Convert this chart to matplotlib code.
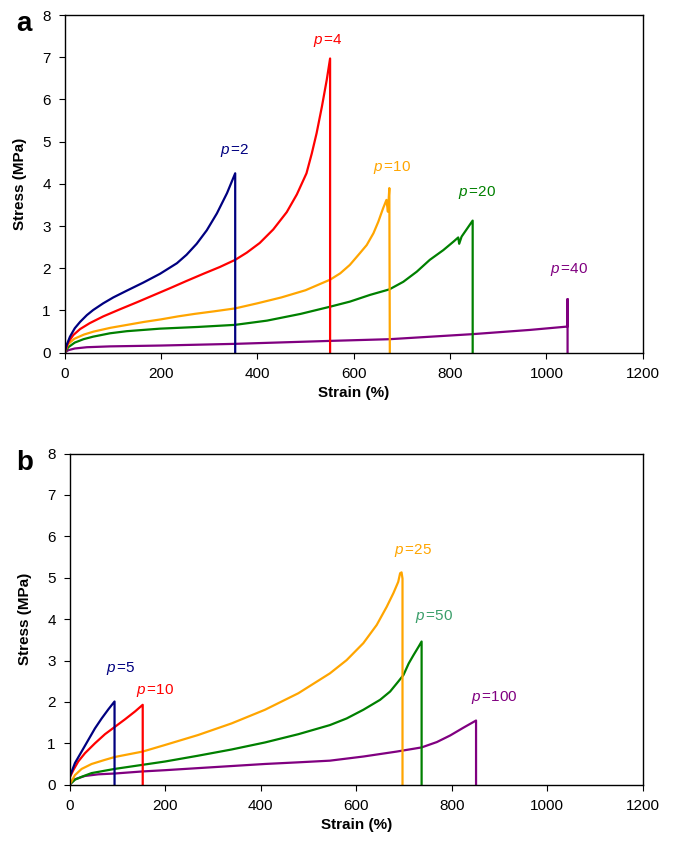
import numpy as np
import matplotlib.pyplot as plt

plt.rcParams['font.family'] = ['Liberation Sans', 'DejaVu Sans']
plt.rcParams['mathtext.fontset'] = 'custom'
plt.rcParams['mathtext.it'] = 'Liberation Sans:italic'
plt.rcParams['mathtext.rm'] = 'Liberation Sans'

# ---- panel a: stress-strain curves (strain %, stress MPa) ----
a_p2_x = [0, 4, 11, 21, 32, 46, 59, 80, 101, 129, 163, 198, 233, 253, 274, 295, 316, 337, 354, 354]
a_p2_y = [0, 0.18, 0.38, 0.58, 0.73, 0.89, 1.01, 1.17, 1.31, 1.47, 1.66, 1.87, 2.12, 2.32, 2.58, 2.9, 3.3, 3.78, 4.25, 0]

a_p4_x = [0, 7.5, 18, 32, 52, 80, 115, 149, 184, 219, 253, 288, 322, 354, 378, 405, 433,
          461, 482, 502, 513, 523, 534, 544, 551, 551]
a_p4_y = [0, 0.25, 0.42, 0.56, 0.7, 0.86, 1.03, 1.19, 1.36, 1.53, 1.7, 1.87, 2.03, 2.2, 2.37, 2.6, 2.92,
          3.33, 3.75, 4.25, 4.72, 5.2, 5.83, 6.46, 6.97, 0]

a_p10_x = [0, 7, 20, 40, 60, 95, 130, 165, 200, 235, 270, 310, 354, 400, 450, 500, 551,
           572, 592, 613, 627, 641, 651, 661, 668, 671, 674, 675]
a_p10_y = [0, 0.2, 0.33, 0.43, 0.5, 0.59, 0.66, 0.73, 0.79, 0.86, 0.92, 0.98, 1.05, 1.17, 1.31, 1.48, 1.73,
           1.88, 2.08, 2.36, 2.55, 2.83, 3.1, 3.42, 3.62, 3.34, 3.9, 0]

a_p20_x = [0, 7.5, 21, 39, 59, 94, 129, 198, 276, 354, 420, 490, 551, 592, 634, 674, 703, 731,
           758, 786, 807, 817, 819, 824, 847, 847]
a_p20_y = [0, 0.13, 0.24, 0.32, 0.38, 0.46, 0.51, 0.57, 0.61, 0.66, 0.76, 0.92, 1.09, 1.21, 1.37, 1.5, 1.68, 1.92,
           2.2, 2.43, 2.63, 2.73, 2.58, 2.75, 3.13, 0]

a_p40_x = [0, 7.5, 21, 46, 94, 200, 354, 551, 674, 847, 966, 1044, 1044, 1044]
a_p40_y = [0, 0.06, 0.1, 0.13, 0.15, 0.17, 0.21, 0.28, 0.32, 0.44, 0.54, 0.62, 1.27, 0]

# ---- panel b ----
b_p5_x = [0, 0.5, 11, 25, 39, 53, 67, 81, 94, 94]
b_p5_y = [0, 0.2, 0.52, 0.8, 1.08, 1.36, 1.6, 1.82, 2.01, 0]

b_p10_x = [0, 0.5, 7.6, 18, 32, 53, 74, 95, 116, 137, 153, 153]
b_p10_y = [0, 0.18, 0.35, 0.56, 0.76, 1.0, 1.22, 1.4, 1.58, 1.77, 1.93, 0]

b_p25_x = [0, 11, 25, 46, 74, 95, 153, 200, 269, 339, 409, 479, 545, 580, 615, 643, 664, 678,
           688, 692, 695, 697, 697]
b_p25_y = [0, 0.23, 0.38, 0.5, 0.6, 0.67, 0.8, 0.96, 1.2, 1.48, 1.81, 2.21, 2.69, 3.01, 3.42, 3.86, 4.3, 4.63,
           4.9, 5.11, 5.13, 4.98, 0]

b_p50_x = [0, 11, 25, 46, 94, 153, 200, 269, 339, 409, 479, 545, 580, 615, 650, 671, 688, 699,
           710, 720, 731, 737, 737]
b_p50_y = [0, 0.12, 0.19, 0.28, 0.38, 0.48, 0.56, 0.7, 0.85, 1.02, 1.22, 1.44, 1.6, 1.81, 2.05, 2.25, 2.49, 2.65,
           2.93, 3.13, 3.34, 3.46, 0]

b_p100_x = [0, 11, 32, 60, 95, 153, 200, 269, 339, 409, 479, 545, 615, 685, 737, 769, 797, 825, 851, 851]
b_p100_y = [0, 0.13, 0.21, 0.25, 0.27, 0.32, 0.35, 0.4, 0.45, 0.5, 0.54, 0.58, 0.68, 0.8, 0.9, 1.03, 1.19, 1.38,
            1.55, 0]

# label text, anchor (strain, stress), colour
a_labels = [("2", 354, 4.8, "#000080"), ("4", 547, 7.4, "#ff0000"),
            ("10", 680, 4.38, "#ffa500"), ("20", 857, 3.79, "#008000"),
            ("40", 1047, 1.97, "#800080")]
b_labels = [("5", 108, 2.81, "#000080"), ("10", 179, 2.27, "#ff0000"),
            ("25", 719, 5.67, "#ffa500"), ("50", 764, 4.07, "#3a9e6a"),
            ("100", 889, 2.11, "#800080")]

a_series = [(a_p2_x, a_p2_y, "#000080"), (a_p4_x, a_p4_y, "#ff0000"),
            (a_p10_x, a_p10_y, "#ffa500"), (a_p20_x, a_p20_y, "#008000"),
            (a_p40_x, a_p40_y, "#800080")]
b_series = [(b_p5_x, b_p5_y, "#000080"), (b_p10_x, b_p10_y, "#ff0000"),
            (b_p25_x, b_p25_y, "#ffa500"), (b_p50_x, b_p50_y, "#008000"),
            (b_p100_x, b_p100_y, "#800080")]

xticks = [0, 200, 400, 600, 800, 1000, 1200]
yticks = [0, 1, 2, 3, 4, 5, 6, 7, 8]


def draw_panel(ax, series, labels, letter, letter_x):
    # purple first so others sit on top, as in the original
    for x, y, c in reversed(series):
        ax.plot(x, y, color=c, lw=1.6, solid_joinstyle="round")
    for txt, x, y, c in labels:
        ax.text(x, y, r"$\mathit{p}\,$=" + txt, color=c, fontsize=11,
                ha="center", va="center")
    ax.set_xlim(0, 1200)
    ax.set_ylim(0, 8)
    ax.set_xticks(xticks)
    ax.set_yticks(yticks)
    ax.tick_params(direction="out", length=4, width=0.8, labelsize=11, pad=6)
    for s in ax.spines.values():
        s.set_linewidth(1.0)
    ax.set_xlabel("Strain (%)", fontsize=11, fontweight="bold", labelpad=4)
    ax.set_ylabel("Stress (MPa)", fontsize=11, fontweight="bold", labelpad=11)
    ax.text(letter_x, 0.973, letter, transform=ax.transAxes, fontsize=20,
            fontweight="bold", ha="left", va="center")


fig = plt.figure(figsize=(6.73, 8.43), dpi=100)
ax_a = fig.add_axes([0.0961, 0.5816, 0.8589, 0.4006])
ax_b = fig.add_axes([0.1035, 0.0692, 0.8515, 0.3927])
draw_panel(ax_a, a_series, a_labels, "a", -0.083)
draw_panel(ax_b, b_series, b_labels, "b", -0.094)

fig.savefig("out.png", dpi=100)
